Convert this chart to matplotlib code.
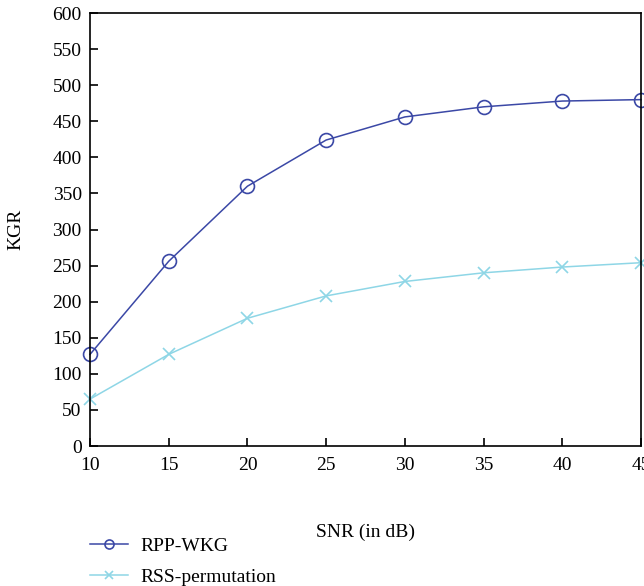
import matplotlib
matplotlib.use('Agg')
import matplotlib.pyplot as plt

snr = [10, 15, 20, 25, 30, 35, 40, 45]
rpp_wkg = [127, 256, 360, 424, 456, 470, 478, 480]
rss_perm = [65, 127, 177, 208, 228, 240, 248, 254]

plt.rcParams['font.family'] = 'Liberation Serif'
plt.rcParams['font.size'] = 14

fig = plt.figure(figsize=(6.44, 5.86), dpi=100)
ax = fig.add_axes([0.1398, 0.2389, 0.8555, 0.7389])

l1, = ax.plot(snr, rpp_wkg, color='#3b48a6', marker='o', markersize=10, markerfacecolor='none',
              markeredgewidth=1.2, linewidth=1.1, label='RPP-WKG', clip_on=False)
l2, = ax.plot(snr, rss_perm, color='#8ed6e6', marker='x', markersize=8,
              markeredgewidth=1.2, linewidth=1.1, label='RSS-permutation', clip_on=False)

ax.set_xlim(10, 45)
ax.set_ylim(0, 600)
ax.set_xticks(snr)
ax.set_yticks(range(0, 601, 50))
ax.tick_params(direction='in', length=6, width=1.2, top=False, right=False, pad=8)
ax.tick_params(axis='y', pad=6)
for s in ax.spines.values():
    s.set_linewidth(1.2)

ax.set_xlabel('SNR (in dB)', labelpad=36)
ax.set_ylabel('KGR', labelpad=20)

fig.legend(handles=[l1, l2], loc='upper left', bbox_to_anchor=(0.127, 0.097), frameon=False,
           handlelength=2.0, labelspacing=0.7, handletextpad=0.6, borderaxespad=0,
           markerscale=0.65)

fig.savefig('out.png', dpi=100)
